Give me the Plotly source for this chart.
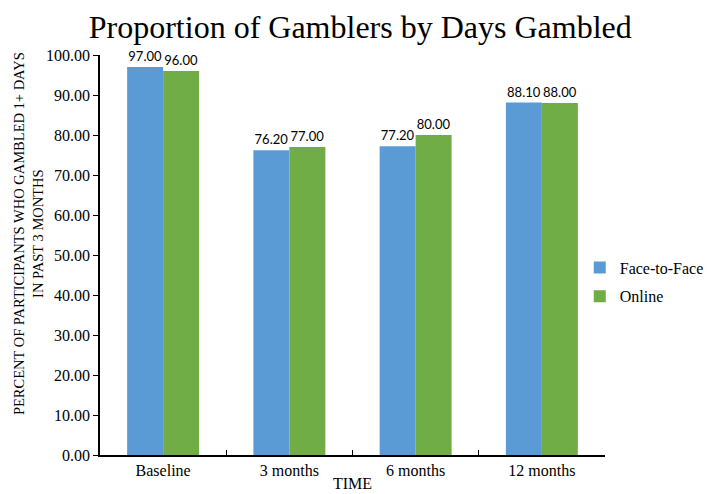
import plotly.graph_objects as go

categories = ["Baseline", "3 months", "6 months", "12 months"]
face_to_face = [97.00, 76.20, 77.20, 88.10]
online = [96.00, 77.00, 80.00, 88.00]
y_ticks = [0, 10, 20, 30, 40, 50, 60, 70, 80, 90, 100]

serif = "Liberation Serif, Times New Roman, serif"
sans = "Lato, Noto Sans, sans-serif"

fig = go.Figure()
fig.add_trace(go.Bar(
    name="Face-to-Face", x=categories, y=face_to_face, legendgroup="f2f",
    marker=dict(color="#5b9bd5", line=dict(width=0)),
    text=[f"{v:.2f}" for v in face_to_face], textposition="outside",
    textfont=dict(family=sans, size=13, color="black"), cliponaxis=False,
    constraintext="none",
))
fig.add_trace(go.Bar(
    name="Online", x=categories, y=online, legendgroup="onl",
    marker=dict(color="#70ad47", line=dict(width=0)),
    text=[f"{v:.2f}" for v in online], textposition="outside",
    textfont=dict(family=sans, size=13, color="black"), cliponaxis=False,
    constraintext="none",
))

fig.update_layout(
    width=716, height=494,
    margin=dict(l=92, r=119, t=47, b=47, autoexpand=False),
    paper_bgcolor="white", plot_bgcolor="white",
    barmode="group", bargap=0.43, bargroupgap=0,
    title=dict(text="Proportion of Gamblers by Days Gambled",
               font=dict(family=serif, size=32, color="black"),
               x=0.492, xanchor="center", y=0.984, yanchor="top"),
    font=dict(family=serif, size=16, color="black"),
    legend=dict(x=0.95, xanchor="left", y=0.4325, yanchor="middle",
                font=dict(family=serif, size=16, color="black"),
                traceorder="grouped", tracegroupgap=5, itemwidth=30),
    showlegend=True,
    annotations=[dict(
        text="PERCENT OF PARTICIPANTS WHO GAMBLED 1+ DAYS<br>IN PAST 3 MONTHS",
        xref="paper", yref="paper", x=-0.140, y=0.553,
        xanchor="center", yanchor="middle", textangle=-90, showarrow=False,
        font=dict(family=serif, size=14.5, color="black"),
    )],
)
fig.update_xaxes(
    showline=True, linecolor="black", linewidth=1.5,
    ticks="inside", tickson="boundaries", ticklen=5, tickcolor="black",
    tickfont=dict(family=serif, size=16, color="black"),
    title=dict(text="TIME", font=dict(family=serif, size=16, color="black"), standoff=0),
    showgrid=False, automargin=False,
)
fig.update_yaxes(
    range=[0, 100], tickvals=y_ticks, ticktext=[f"{v:.2f}" for v in y_ticks],
    showline=True, linecolor="black", linewidth=1.5,
    ticks="outside", ticklen=5, tickcolor="black",
    tickfont=dict(family=serif, size=16, color="black"),
    showgrid=False, zeroline=False, automargin=False,
)

fig.write_html("out.html")
